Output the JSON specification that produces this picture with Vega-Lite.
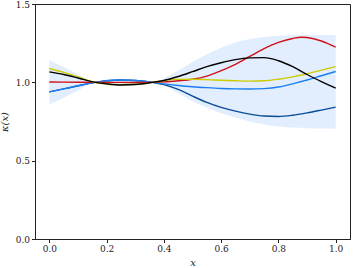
{
  "$schema": "https://vega.github.io/schema/vega-lite/v6.json",
  "width": 315,
  "height": 235,
  "autosize": "none",
  "padding": {"left": 35, "top": 4, "right": 3, "bottom": 29},
  "background": "white",
  "config": {
    "view": {"stroke": "#222", "strokeWidth": 1},
    "font": "DejaVu Serif",
    "axis": {"labelFont": "DejaVu Serif", "titleFont": "DejaVu Serif", "labelFontSize": 9, "titleFontSize": 10, "labelColor": "#222", "titleColor": "#222", "tickColor": "#222", "domainColor": "#222", "grid": false, "tickSize": 3.5, "titleFontWeight": "normal", "titleFontStyle": "italic"}
  },
  "datasets": {
    "band": [
      {"x": 0.0, "lo": 0.857, "hi": 1.143},
      {"x": 0.05, "lo": 0.902, "hi": 1.098},
      {"x": 0.1, "lo": 0.948, "hi": 1.052},
      {"x": 0.16, "lo": 1.0, "hi": 1.0},
      {"x": 0.2, "lo": 0.984, "hi": 1.018},
      {"x": 0.26, "lo": 0.978, "hi": 1.022},
      {"x": 0.32, "lo": 0.985, "hi": 1.015},
      {"x": 0.36, "lo": 1.0, "hi": 1.0},
      {"x": 0.4, "lo": 0.982, "hi": 1.025},
      {"x": 0.45, "lo": 0.93, "hi": 1.075},
      {"x": 0.5, "lo": 0.88, "hi": 1.13},
      {"x": 0.55, "lo": 0.84, "hi": 1.18},
      {"x": 0.6, "lo": 0.802, "hi": 1.22},
      {"x": 0.65, "lo": 0.775, "hi": 1.255},
      {"x": 0.7, "lo": 0.75, "hi": 1.276},
      {"x": 0.75, "lo": 0.731, "hi": 1.29},
      {"x": 0.8, "lo": 0.718, "hi": 1.297},
      {"x": 0.85, "lo": 0.711, "hi": 1.3},
      {"x": 0.9, "lo": 0.707, "hi": 1.302},
      {"x": 0.95, "lo": 0.705, "hi": 1.302},
      {"x": 1.0, "lo": 0.704, "hi": 1.302}
    ],
    "lines": [
      {"x": 0.0, "s": "dark", "k": 0.939}, {"x": 0.05, "s": "dark", "k": 0.958}, {"x": 0.1, "s": "dark", "k": 0.978}, {"x": 0.16, "s": "dark", "k": 1.0}, {"x": 0.2, "s": "dark", "k": 1.01}, {"x": 0.25, "s": "dark", "k": 1.015}, {"x": 0.3, "s": "dark", "k": 1.012}, {"x": 0.36, "s": "dark", "k": 1.0}, {"x": 0.4, "s": "dark", "k": 0.985}, {"x": 0.45, "s": "dark", "k": 0.955}, {"x": 0.5, "s": "dark", "k": 0.912}, {"x": 0.55, "s": "dark", "k": 0.872}, {"x": 0.6, "s": "dark", "k": 0.84}, {"x": 0.65, "s": "dark", "k": 0.816}, {"x": 0.7, "s": "dark", "k": 0.797}, {"x": 0.75, "s": "dark", "k": 0.785}, {"x": 0.8, "s": "dark", "k": 0.782}, {"x": 0.85, "s": "dark", "k": 0.79}, {"x": 0.9, "s": "dark", "k": 0.805}, {"x": 0.95, "s": "dark", "k": 0.823}, {"x": 1.0, "s": "dark", "k": 0.842},
      {"x": 0.0, "s": "light", "k": 0.939}, {"x": 0.05, "s": "light", "k": 0.958}, {"x": 0.1, "s": "light", "k": 0.978}, {"x": 0.16, "s": "light", "k": 1.0}, {"x": 0.2, "s": "light", "k": 1.01}, {"x": 0.25, "s": "light", "k": 1.015}, {"x": 0.3, "s": "light", "k": 1.012}, {"x": 0.36, "s": "light", "k": 1.0}, {"x": 0.4, "s": "light", "k": 0.99}, {"x": 0.45, "s": "light", "k": 0.98}, {"x": 0.5, "s": "light", "k": 0.972}, {"x": 0.55, "s": "light", "k": 0.966}, {"x": 0.6, "s": "light", "k": 0.961}, {"x": 0.65, "s": "light", "k": 0.958}, {"x": 0.7, "s": "light", "k": 0.957}, {"x": 0.75, "s": "light", "k": 0.96}, {"x": 0.8, "s": "light", "k": 0.97}, {"x": 0.85, "s": "light", "k": 0.99}, {"x": 0.9, "s": "light", "k": 1.015}, {"x": 0.95, "s": "light", "k": 1.042}, {"x": 1.0, "s": "light", "k": 1.069},
      {"x": 0.0, "s": "red", "k": 1.002}, {"x": 0.1, "s": "red", "k": 1.001}, {"x": 0.2, "s": "red", "k": 1.0}, {"x": 0.3, "s": "red", "k": 0.999}, {"x": 0.4, "s": "red", "k": 1.003}, {"x": 0.45, "s": "red", "k": 1.01}, {"x": 0.5, "s": "red", "k": 1.02}, {"x": 0.55, "s": "red", "k": 1.04}, {"x": 0.6, "s": "red", "k": 1.075}, {"x": 0.65, "s": "red", "k": 1.115}, {"x": 0.7, "s": "red", "k": 1.165}, {"x": 0.75, "s": "red", "k": 1.215}, {"x": 0.8, "s": "red", "k": 1.255}, {"x": 0.85, "s": "red", "k": 1.28}, {"x": 0.88, "s": "red", "k": 1.288}, {"x": 0.9, "s": "red", "k": 1.286}, {"x": 0.95, "s": "red", "k": 1.264}, {"x": 1.0, "s": "red", "k": 1.224},
      {"x": 0.0, "s": "yellow", "k": 1.088}, {"x": 0.05, "s": "yellow", "k": 1.064}, {"x": 0.1, "s": "yellow", "k": 1.035}, {"x": 0.16, "s": "yellow", "k": 1.0}, {"x": 0.2, "s": "yellow", "k": 0.99}, {"x": 0.25, "s": "yellow", "k": 0.985}, {"x": 0.3, "s": "yellow", "k": 0.988}, {"x": 0.36, "s": "yellow", "k": 1.0}, {"x": 0.4, "s": "yellow", "k": 1.012}, {"x": 0.45, "s": "yellow", "k": 1.019}, {"x": 0.5, "s": "yellow", "k": 1.02}, {"x": 0.55, "s": "yellow", "k": 1.017}, {"x": 0.6, "s": "yellow", "k": 1.013}, {"x": 0.65, "s": "yellow", "k": 1.01}, {"x": 0.7, "s": "yellow", "k": 1.008}, {"x": 0.75, "s": "yellow", "k": 1.01}, {"x": 0.8, "s": "yellow", "k": 1.02}, {"x": 0.85, "s": "yellow", "k": 1.035}, {"x": 0.9, "s": "yellow", "k": 1.055}, {"x": 0.95, "s": "yellow", "k": 1.078}, {"x": 1.0, "s": "yellow", "k": 1.1},
      {"x": 0.0, "s": "black", "k": 1.067}, {"x": 0.05, "s": "black", "k": 1.05}, {"x": 0.1, "s": "black", "k": 1.028}, {"x": 0.16, "s": "black", "k": 1.0}, {"x": 0.2, "s": "black", "k": 0.99}, {"x": 0.25, "s": "black", "k": 0.983}, {"x": 0.3, "s": "black", "k": 0.986}, {"x": 0.36, "s": "black", "k": 1.0}, {"x": 0.4, "s": "black", "k": 1.012}, {"x": 0.45, "s": "black", "k": 1.037}, {"x": 0.5, "s": "black", "k": 1.068}, {"x": 0.55, "s": "black", "k": 1.1}, {"x": 0.6, "s": "black", "k": 1.125}, {"x": 0.65, "s": "black", "k": 1.145}, {"x": 0.7, "s": "black", "k": 1.156}, {"x": 0.75, "s": "black", "k": 1.158}, {"x": 0.8, "s": "black", "k": 1.138}, {"x": 0.85, "s": "black", "k": 1.1}, {"x": 0.9, "s": "black", "k": 1.05}, {"x": 0.95, "s": "black", "k": 1.005}, {"x": 1.0, "s": "black", "k": 0.963}
    ]
  },
  "layer": [
    {
      "data": {"name": "band"},
      "mark": {"type": "area", "interpolate": "monotone", "color": "#e2eefd", "opacity": 1},
      "encoding": {
        "x": {"field": "x", "type": "quantitative", "scale": {"domain": [-0.05, 1.05], "nice": false, "zero": false}, "axis": {"values": [0, 0.2, 0.4, 0.6, 0.8, 1.0], "format": ".1f", "title": "x", "titlePadding": 4}},
        "y": {"field": "lo", "type": "quantitative", "scale": {"domain": [0, 1.5], "nice": false}, "axis": {"values": [0, 0.5, 1.0, 1.5], "format": ".1f", "title": "κ(x)", "titlePadding": 6}},
        "y2": {"field": "hi"}
      }
    },
    {
      "data": {"name": "lines"},
      "mark": {"type": "line", "interpolate": "monotone", "strokeWidth": 1.4},
      "encoding": {
        "x": {"field": "x", "type": "quantitative"},
        "y": {"field": "k", "type": "quantitative"},
        "detail": {"field": "s"},
        "order": {"field": "x"},
        "color": {"field": "s", "type": "nominal", "scale": {"domain": ["dark", "light", "red", "yellow", "black"], "range": ["#0b4c96", "#1a7cf0", "#d0101a", "#cccc00", "#000000"]}, "legend": null}
      }
    }
  ]
}
